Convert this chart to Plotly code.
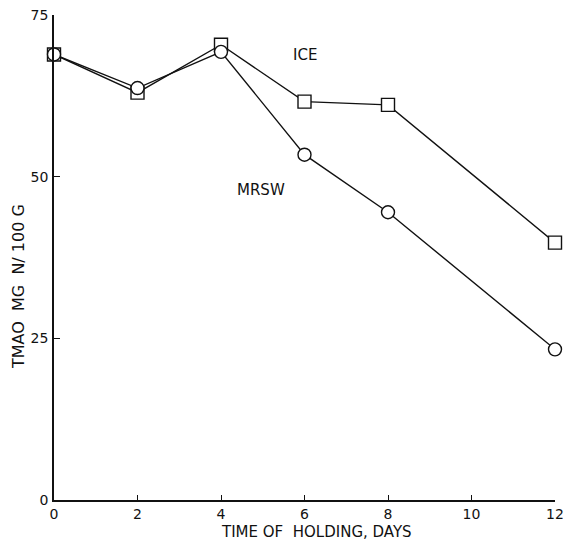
import plotly.graph_objects as go

days = [0, 2, 4, 6, 8, 12]
ice = [68.9, 63.0, 70.4, 61.6, 61.1, 39.8]
mrsw = [68.9, 63.7, 69.3, 53.4, 44.5, 23.3]
x_ticks = [0, 2, 4, 6, 8, 10, 12]
y_ticks = [0, 25, 50, 75]

FONT = "DejaVu Sans, Liberation Sans, sans-serif"
INK = "#111111"

W, H = 565, 540
L, R, T, B = 54, 10, 15, 40
PW, PH = W - L - R, H - T - B


def px(xp):
    return (xp - L) / PW


def py(yp):
    return (H - B - yp) / PH


fig = go.Figure()
fig.add_trace(go.Scatter(
    x=days, y=ice, mode="lines+markers", name="ICE",
    line=dict(color=INK, width=1.4),
    marker=dict(symbol="square", size=13, color="white", line=dict(color=INK, width=1.4)),
    cliponaxis=False))
fig.add_trace(go.Scatter(
    x=days, y=mrsw, mode="lines+markers", name="MRSW",
    line=dict(color=INK, width=1.4),
    marker=dict(symbol="circle", size=13, color="white", line=dict(color=INK, width=1.4)),
    cliponaxis=False))

fig.update_layout(
    width=W, height=H,
    margin=dict(l=L, r=R, t=T, b=B),
    paper_bgcolor="white", plot_bgcolor="white",
    showlegend=False,
    font=dict(family=FONT, color=INK, size=14),
)
fig.update_xaxes(
    range=[0, 12], tickvals=x_ticks, ticktext=[str(v) for v in x_ticks],
    showgrid=False, zeroline=False, showline=True, linecolor=INK, linewidth=1.5,
    ticks="inside", ticklen=5, tickcolor=INK, tickwidth=1.2,
    tickfont=dict(size=14, color=INK, family=FONT), ticklabelstandoff=0,
    ticklabeloverflow="allow", automargin=False,
)
fig.update_yaxes(
    range=[0, 75], tickvals=y_ticks, ticktext=[str(v) for v in y_ticks],
    showgrid=False, zeroline=False, showline=True, linecolor=INK, linewidth=1.5,
    ticks="inside", ticklen=6, tickcolor=INK, tickwidth=1.2,
    tickfont=dict(size=14, color=INK, family=FONT), ticklabelstandoff=1,
    ticklabeloverflow="allow", automargin=False,
)

fig.add_annotation(x=6.0, y=68.8, text="ICE", showarrow=False,
                   font=dict(size=15, color=INK, family=FONT))
fig.add_annotation(x=4.96, y=47.9, text="MRSW", showarrow=False,
                   font=dict(size=15, color=INK, family=FONT))
fig.add_annotation(x=px(316), y=py(532), xref="paper", yref="paper",
                   text="TIME OF  HOLDING, DAYS", showarrow=False,
                   xanchor="center", yanchor="middle",
                   font=dict(size=15, color=INK, family=FONT))
fig.add_annotation(x=px(18), y=py(287), xref="paper", yref="paper",
                   text="TMAO  MG  N/ 100 G", showarrow=False, textangle=-90,
                   xanchor="center", yanchor="middle",
                   font=dict(size=16, color=INK, family=FONT))

fig.write_html(
    "out.html",
    config={"displayModeBar": False},
    post_script="document.body.style.margin='0';document.body.style.overflow='hidden';",
)
